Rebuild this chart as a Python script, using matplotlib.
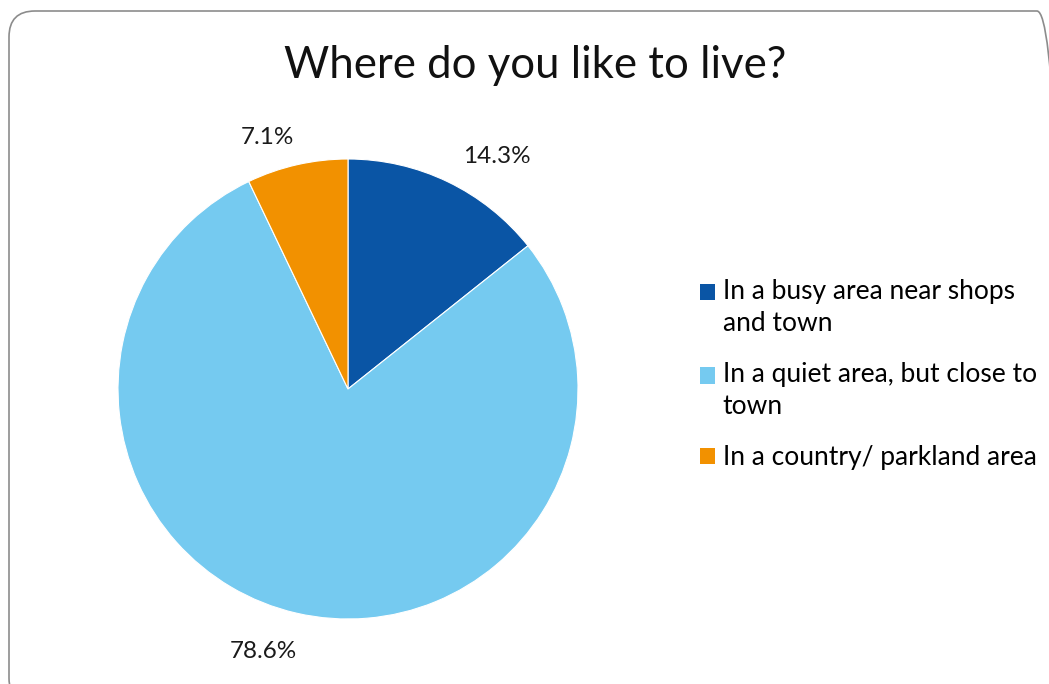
import numpy as np
import matplotlib.pyplot as plt
from matplotlib.patches import FancyBboxPatch, Patch, Rectangle
from matplotlib.legend_handler import HandlerPatch

# data
labels = ["In a busy area near shops\nand town",
          "In a quiet area, but close to\ntown",
          "In a country/ parkland area"]
values = [14.3, 78.6, 7.1]
colors = ["#0A55A5", "#75CAF0", "#F29100"]
title = "Where do you like to live?"

# where the percent labels sit (angle tweak in degrees, distance in radii)
label_turn = [-7, -5, 5]
label_dist = [1.2, 1.2, 1.15]

plt.rcParams['font.family'] = ['Lato', 'DejaVu Sans']

fig = plt.figure(figsize=(10.49, 6.84), dpi=100)

# rounded frame around the chart (pixel coordinates)
frame = FancyBboxPatch((9, -20), 1054, 693,
                       boxstyle="round,pad=0,rounding_size=26",
                       transform=None, facecolor="none",
                       edgecolor="#8c8c8c", linewidth=1.2, zorder=0)
fig.patches.append(frame)

# pie axes: centre ~ (348, 389) px, radius ~ 230 px
W, H = 1049, 684
cx, cy, r = 348, 389, 230
ax = fig.add_axes([(cx - r) / W, (H - cy - r) / H, 2 * r / W, 2 * r / H])
wedges, _, pcts = ax.pie(values, colors=colors, startangle=90, counterclock=False,
                         autopct="%1.1f%%", pctdistance=1.18,
                         textprops=dict(fontsize=17.5, color="#1a1a1a"),
                         wedgeprops=dict(edgecolor="white", linewidth=0.8))
for w, t, turn, d in zip(wedges, pcts, label_turn, label_dist):
    a = np.deg2rad((w.theta1 + w.theta2) / 2 + turn)
    t.set_position((d * np.cos(a), d * np.sin(a)))
ax.set_aspect("equal")
ax.set_xlim(-1, 1)
ax.set_ylim(-1, 1)
ax.axis("off")

fig.text(535 / W, 1 - 65 / H, title, ha="center", va="center",
         fontsize=31.5, color="#111111")

# legend squares sit on the first line of a wrapped label
leg_fs = 19
handles = [Patch(facecolor=c, edgecolor="none") for c in colors]
nlines = {id(h): lab.count("\n") + 1 for h, lab in zip(handles, labels)}


def square(legend, orig_handle, xdescent, ydescent, width, height, fontsize):
    shift = (nlines[id(orig_handle)] - 1) * 0.6 * fontsize
    return Rectangle((-xdescent, -ydescent + shift), width, height)


leg = fig.legend(handles, labels, loc="upper left",
                 bbox_to_anchor=(689 / W, 1 - 268 / H), frameon=False,
                 fontsize=leg_fs, handlelength=0.6, handleheight=0.6,
                 handletextpad=0.27, labelspacing=1.0, borderaxespad=0,
                 handler_map={Patch: HandlerPatch(patch_func=square)})
for t in leg.get_texts():
    t.set_linespacing(1.35)

fig.savefig("out.png", dpi=100)
